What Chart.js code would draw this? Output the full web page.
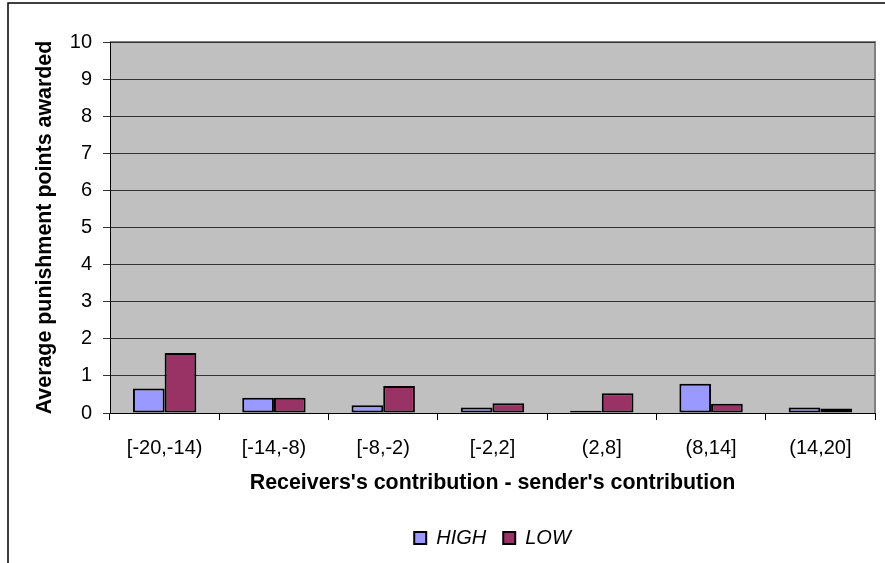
<!DOCTYPE html>
<html>
<head>
<meta charset="utf-8">
<script src="https://cdn.jsdelivr.net/npm/chart.js@4"></script>
<style>
  html, body { margin: 0; padding: 0; background: #fff; }
  #wrap { width: 885px; height: 563px; position: relative; }
</style>
</head>
<body>
<div id="wrap"><canvas id="c" width="885" height="563"></canvas></div>
<script>
// Contribution-difference bins
const categories = ['[-20,-14)', '[-14,-8)', '[-8,-2)', '[-2,2]', '(2,8]', '(8,14]', '(14,20]'];
// Average punishment points per bin
const highValues = [0.66, 0.41, 0.21, 0.15, 0.06, 0.79, 0.15];
const lowValues  = [1.62, 0.41, 0.73, 0.26, 0.53, 0.25, 0.12];
const yTicks = [0, 1, 2, 3, 4, 5, 6, 7, 8, 9, 10];

const FONT = 'Arial, "Liberation Sans", sans-serif';

// Grey plot background and outer frame
const framePlugin = {
  id: 'frame',
  beforeDraw(chart) {
    const { ctx, chartArea: a } = chart;
    ctx.save();
    ctx.fillStyle = '#C0C0C0';
    ctx.fillRect(a.left, a.top, a.right - a.left, a.bottom - a.top);
    ctx.strokeStyle = '#808080';
    ctx.lineWidth = 2;
    ctx.beginPath();
    ctx.moveTo(a.left, a.top);
    ctx.lineTo(a.right, a.top);
    ctx.lineTo(a.right, a.bottom);
    ctx.stroke();
    ctx.strokeStyle = '#000';
    ctx.lineWidth = 1.5;
    ctx.beginPath();
    ctx.moveTo(8, 563);
    ctx.lineTo(8, 3);
    ctx.lineTo(885, 3);
    ctx.stroke();
    ctx.restore();
  }
};

const barStyle = { borderColor: '#000', borderWidth: 2, borderSkipped: false,
  categoryPercentage: 0.58, barPercentage: 1.0 };

new Chart(document.getElementById('c'), {
  type: 'bar',
  data: {
    labels: categories,
    datasets: [
      Object.assign({ label: 'HIGH', data: highValues, backgroundColor: '#9999FF' }, barStyle),
      Object.assign({ label: 'LOW', data: lowValues, backgroundColor: '#993366' }, barStyle)
    ]
  },
  options: {
    responsive: false,
    animation: false,
    devicePixelRatio: 1,
    layout: { padding: { top: 42, right: 10, left: 14, bottom: 5 } },
    plugins: {
      legend: {
        position: 'bottom',
        fullSize: false,
        labels: {
          color: '#000',
          boxWidth: 12,
          boxHeight: 12,
          padding: 17,
          font: { family: FONT, size: 20, style: 'italic' }
        }
      },
      tooltip: { enabled: false }
    },
    scales: {
      x: {
        offset: true,
        grid: { display: true, drawOnChartArea: false, offset: true, tickLength: 7, color: '#000', lineWidth: 1 },
        border: { color: '#000', width: 1 },
        ticks: { color: '#000', padding: 16, maxRotation: 0, font: { family: FONT, size: 20 } },
        title: {
          display: true,
          text: "Receivers's contribution - sender's contribution",
          color: '#000',
          padding: { top: 4, bottom: 15 },
          font: { family: FONT, size: 21.4, weight: 'bold' }
        },
        afterFit(scale) { scale.height = 98; }
      },
      y: {
        min: 0,
        max: 10,
        afterBuildTicks(scale) { scale.ticks = yTicks.map(v => ({ value: v })); },
        grid: { color: '#333', lineWidth: 1, tickLength: 7, drawTicks: true },
        border: { color: '#000', width: 1 },
        ticks: { color: '#000', padding: 11, font: { family: FONT, size: 20 } },
        title: {
          display: true,
          text: 'Average punishment points awarded',
          color: '#000',
          padding: { top: 18, bottom: 6 },
          font: { family: FONT, size: 21.4, weight: 'bold' }
        },
        afterFit(scale) { scale.width = 96; }
      }
    }
  },
  plugins: [framePlugin]
});
</script>
</body>
</html>
